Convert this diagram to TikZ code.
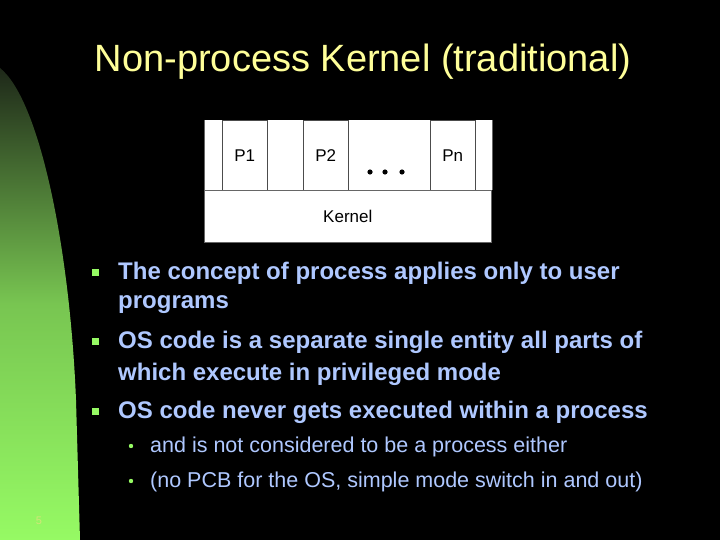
\documentclass[tikz,border=0pt]{standalone}
\usepackage{fontspec}
\setmainfont{Liberation Sans}
\begin{document}
\begin{tikzpicture}[x=1pt,y=-1pt]
\definecolor{txtc}{RGB}{175,200,255}
\definecolor{gtop}{RGB}{30,40,25}
\definecolor{gbot}{RGB}{150,250,100}
\tikzset{
  txt/.style={text=txtc, font=\bfseries\fontsize{24}{32}\selectfont, anchor=west, inner sep=0pt},
  sub/.style={text=txtc, font=\fontsize{21.5}{24}\selectfont, anchor=west, inner sep=0pt},
  cell/.style={draw=black!70, line width=0.6pt, fill=white, font=\fontsize{17}{19}\selectfont}}
\fill[black] (0,0) rectangle (720,540);
\shade[top color=gtop, bottom color=gbot, middle color=gbot!75!gtop]
  (0,68) .. controls (40,100) and (70,250) .. (76,400) -- (80,540) -- (0,540) -- cycle;
\node[text={rgb,255:red,255;green,255;blue,153}, font=\fontsize{38}{42}\selectfont, anchor=center] (title) at (363,62) {Non-process Kernel (traditional)};
% diagram
\fill[white] (204,120) rectangle (492,190);
\draw[black!60, line width=0.8pt] (204,120) -- (204,190) (492,120) -- (492,190);
\node[cell, minimum width=45, minimum height=70, anchor=north west] (p1) at (222,120) {P1};
\node[cell, minimum width=45, minimum height=70, anchor=north west] (p2) at (303,120) {P2};
\node[cell, minimum width=45, minimum height=70, anchor=north west] (pn) at (430,120) {Pn};
\node[cell, draw=black!60, minimum width=287, minimum height=52, anchor=north west] (kernel) at (204,190) {Kernel};
\fill (370,172) circle (2.6) (385,172) circle (2.6) (402,172) circle (2.6);
% bullets
\fill[gbot] (92,269) rectangle (99,276);
\node[txt] (b1) at (118,273) {The concept of process applies only to user};
\node[txt] (b1b) at (118,305) {programs};
\fill[gbot] (92,338) rectangle (99,345);
\node[txt] (b2) at (118,342) {OS code is a separate single entity all parts of};
\node[txt] (b2b) at (118,374) {which execute in privileged mode};
\fill[gbot] (92,408) rectangle (99,415);
\node[txt] (b3) at (118,412) {OS code never gets executed within a process};
\fill[gbot] (131,446) circle (2.2);
\node[sub] (s1) at (150,447) {and is not considered to be a process either};
\fill[gbot] (131,481) circle (2.2);
\node[sub] (s2) at (150,482) {(no PCB for the OS, simple mode switch in and out)};
\node[text={rgb,255:red,210;green,230;blue,120}, font=\fontsize{11}{12}\selectfont] (pg) at (39,521) {5};
\end{tikzpicture}
\end{document}
